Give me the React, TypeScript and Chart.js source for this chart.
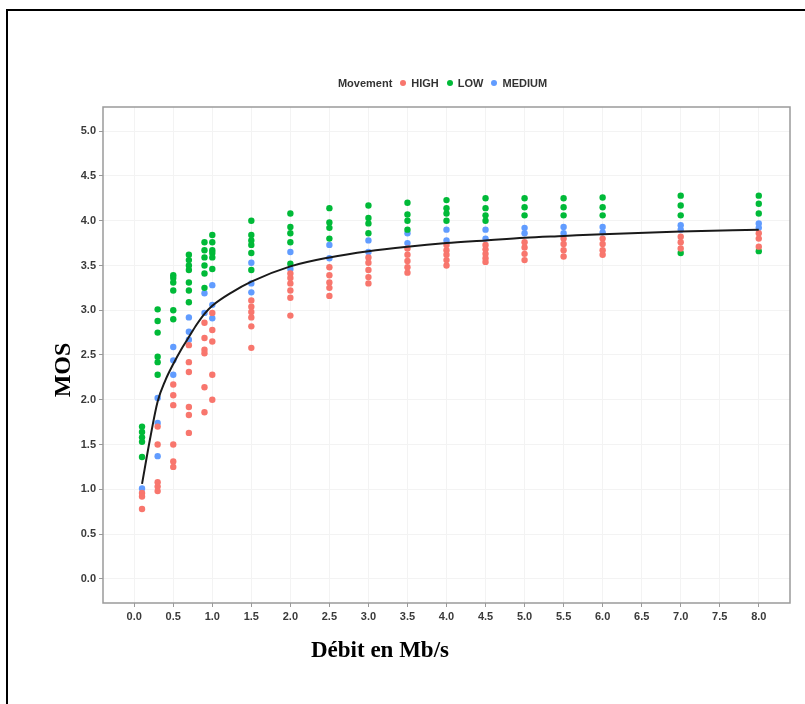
import React, { useEffect, useRef } from 'react';
import { Chart, registerables } from 'chart.js';
Chart.register(...registerables);

const rates = [0.1, 0.3, 0.5, 0.7, 0.9, 1.0, 1.5, 2.0, 2.5, 3.0, 3.5, 4.0, 4.5, 5.0, 5.5, 6.0, 7.0, 8.0];

const highMos: number[][] = [
  [0.96, 0.92, 0.78],
  [1.70, 1.50, 1.08, 1.03, 0.98],
  [2.17, 2.05, 1.94, 1.50, 1.31, 1.25],
  [2.61, 2.42, 2.31, 1.92, 1.83, 1.63],
  [2.86, 2.69, 2.56, 2.52, 2.14, 1.86],
  [2.97, 2.78, 2.65, 2.28, 2.00],
  [3.11, 3.04, 2.98, 2.92, 2.82, 2.58],
  [3.41, 3.36, 3.30, 3.22, 3.14, 2.94],
  [3.48, 3.39, 3.31, 3.25, 3.16],
  [3.59, 3.53, 3.45, 3.37, 3.30],
  [3.69, 3.62, 3.55, 3.48, 3.42],
  [3.73, 3.67, 3.62, 3.56, 3.50],
  [3.73, 3.68, 3.63, 3.58, 3.54],
  [3.76, 3.70, 3.63, 3.56],
  [3.80, 3.74, 3.67, 3.60],
  [3.80, 3.74, 3.67, 3.62],
  [3.82, 3.76, 3.69],
  [3.86, 3.80, 3.71],
];

const lowMos: number[][] = [
  [1.70, 1.64, 1.58, 1.53, 1.36],
  [3.01, 2.88, 2.75, 2.48, 2.42, 2.28],
  [3.39, 3.36, 3.31, 3.22, 3.00, 2.90],
  [3.62, 3.56, 3.50, 3.45, 3.31, 3.22, 3.09],
  [3.76, 3.67, 3.59, 3.50, 3.41, 3.25],
  [3.84, 3.76, 3.67, 3.64, 3.59, 3.46],
  [4.00, 3.84, 3.78, 3.73, 3.64, 3.45],
  [4.08, 3.93, 3.86, 3.76, 3.52],
  [4.14, 3.98, 3.92, 3.80],
  [4.17, 4.03, 3.97, 3.86],
  [4.20, 4.07, 4.00, 3.90],
  [4.23, 4.14, 4.08, 4.00],
  [4.25, 4.14, 4.06, 4.00],
  [4.25, 4.15, 4.06],
  [4.25, 4.15, 4.06],
  [4.26, 4.15, 4.06],
  [4.28, 4.17, 4.06, 3.64],
  [4.28, 4.19, 4.08, 3.66],
];

const mediumMos: number[][] = [
  [1.01],
  [2.02, 1.74, 1.37],
  [2.59, 2.44, 2.28],
  [2.92, 2.76, 2.67],
  [3.19, 2.97],
  [3.28, 3.06, 2.91],
  [3.53, 3.30, 3.20],
  [3.65, 3.46],
  [3.73, 3.58],
  [3.78, 3.65],
  [3.86, 3.75],
  [3.90, 3.78],
  [3.90, 3.80],
  [3.92, 3.86],
  [3.93, 3.86],
  [3.93, 3.87],
  [3.95, 3.90],
  [3.97, 3.92],
];

const fitRates = [0.1, 0.2, 0.3, 0.4, 0.5, 0.6, 0.7, 0.8, 0.9, 1.0, 1.25, 1.5, 2.0, 2.5, 3.0, 3.5, 4.0, 4.5, 5.0, 5.5, 6.0, 7.0, 8.0];
const fitMos = [1.06, 1.55, 1.98, 2.22, 2.40, 2.56, 2.70, 2.84, 2.96, 3.05, 3.20, 3.32, 3.49, 3.59, 3.66, 3.71, 3.75, 3.78, 3.81, 3.83, 3.85, 3.88, 3.90];

const xTickValues = [0, 0.5, 1, 1.5, 2, 2.5, 3, 3.5, 4, 4.5, 5, 5.5, 6, 6.5, 7, 7.5, 8];
const yTickValues = [0, 0.5, 1, 1.5, 2, 2.5, 3, 3.5, 4, 4.5, 5];

const groupNames = ['HIGH', 'LOW', 'MEDIUM'];
const groupColors = ['#F8766D', '#00BA38', '#619CFF'];

function toPoints(values: number[][]) {
  const pts: { x: number; y: number }[] = [];
  values.forEach((col, i) => col.forEach((v) => pts.push({ x: rates[i], y: v })));
  return pts;
}

const boxPlugin = {
  id: 'boxPlugin',
  afterDraw(chart: any) {
    const { ctx, chartArea } = chart;
    ctx.save();
    ctx.strokeStyle = '#9a9a9a';
    ctx.lineWidth = 1.5;
    ctx.strokeRect(chartArea.left, chartArea.top, chartArea.right - chartArea.left, chartArea.bottom - chartArea.top);
    ctx.restore();
  },
};

export default function App() {
  const ref = useRef<HTMLCanvasElement | null>(null);
  useEffect(() => {
    if (!ref.current) return;
    const groups = [highMos, lowMos, mediumMos];
    const chart = new Chart(ref.current, {
      type: 'scatter',
      data: {
        datasets: [
          {
            type: 'line',
            label: 'fit',
            data: fitRates.map((x, i) => ({ x, y: fitMos[i] })),
            borderColor: '#1a1a1a',
            borderWidth: 2,
            pointRadius: 0,
            cubicInterpolationMode: 'monotone',
            fill: false,
            order: 0,
          } as any,
          ...groups.map((g, i) => ({
            label: groupNames[i],
            data: toPoints(g),
            backgroundColor: groupColors[i],
            borderWidth: 0,
            pointRadius: 3.2,
            order: 1,
          })),
        ],
      },
      options: {
        animation: false,
        responsive: false,
        layout: { padding: { left: 63, right: 15, top: 107, bottom: 76 } },
        plugins: { legend: { display: false }, tooltip: { enabled: false } },
        scales: {
          x: {
            type: 'linear',
            min: -0.4,
            max: 8.4,
            afterBuildTicks: (s: any) => {
              s.ticks = xTickValues.map((v) => ({ value: v }));
            },
            afterFit: (s: any) => {
              s.height = 25;
            },
            ticks: {
              autoSkip: false,
              maxRotation: 0,
              padding: 3,
              color: '#3a3a3a',
              font: { family: 'Liberation Sans', size: 11, weight: 'bold' },
              callback: (v: any) => Number(v).toFixed(1),
            },
            grid: { color: '#f3f3f3', tickLength: 4, tickColor: '#9a9a9a', lineWidth: 1 },
            border: { display: false },
          },
          y: {
            type: 'linear',
            min: -0.27,
            max: 5.27,
            afterBuildTicks: (s: any) => {
              s.ticks = yTickValues.map((v) => ({ value: v }));
            },
            afterFit: (s: any) => {
              s.width = 40;
            },
            ticks: {
              autoSkip: false,
              padding: 3,
              color: '#3a3a3a',
              font: { family: 'Liberation Sans', size: 11, weight: 'bold' },
              callback: (v: any) => Number(v).toFixed(1),
            },
            grid: { color: '#f3f3f3', tickLength: 4, tickColor: '#9a9a9a', lineWidth: 1 },
            border: { display: false },
          },
        },
      },
      plugins: [boxPlugin],
    });
    return () => chart.destroy();
  }, []);

  return (
    <div style={{ position: 'fixed', left: 0, top: 0, width: 805, height: 704, overflow: 'hidden', background: '#fff' }}>
      <canvas ref={ref} width={805} height={704} style={{ position: 'absolute', left: 0, top: 0, display: 'block' }} />
      <div
        style={{
          position: 'absolute',
          left: 6,
          top: 9,
          width: 900,
          height: 800,
          borderLeft: '2px solid #000',
          borderTop: '2px solid #000',
          pointerEvents: 'none',
        }}
      />
      <div
        style={{
          position: 'absolute',
          left: 103,
          width: 687,
          top: 75,
          height: 16,
          display: 'flex',
          justifyContent: 'center',
          alignItems: 'center',
          fontFamily: 'Liberation Sans',
          fontWeight: 'bold',
          fontSize: 11,
          color: '#333',
        }}
      >
        <span style={{ marginRight: 8 }}>Movement</span>
        {groupNames.map((n, i) => (
          <span key={n} style={{ display: 'flex', alignItems: 'center', marginRight: 8 }}>
            <span
              style={{
                display: 'inline-block',
                width: 6,
                height: 6,
                borderRadius: 3,
                background: groupColors[i],
                marginRight: 5,
              }}
            />
            {n}
          </span>
        ))}
      </div>
      <div
        style={{
          position: 'absolute',
          left: 62,
          top: 370,
          transform: 'translate(-50%, -50%) rotate(-90deg)',
          fontFamily: 'Liberation Serif',
          fontWeight: 'bold',
          fontSize: 24,
          color: '#000',
          whiteSpace: 'nowrap',
        }}
      >
        MOS
      </div>
      <div
        style={{
          position: 'absolute',
          left: 380,
          top: 650,
          transform: 'translate(-50%, -50%)',
          fontFamily: 'Liberation Serif',
          fontWeight: 'bold',
          fontSize: 23,
          color: '#000',
          whiteSpace: 'nowrap',
        }}
      >
        Débit en Mb/s
      </div>
    </div>
  );
}
